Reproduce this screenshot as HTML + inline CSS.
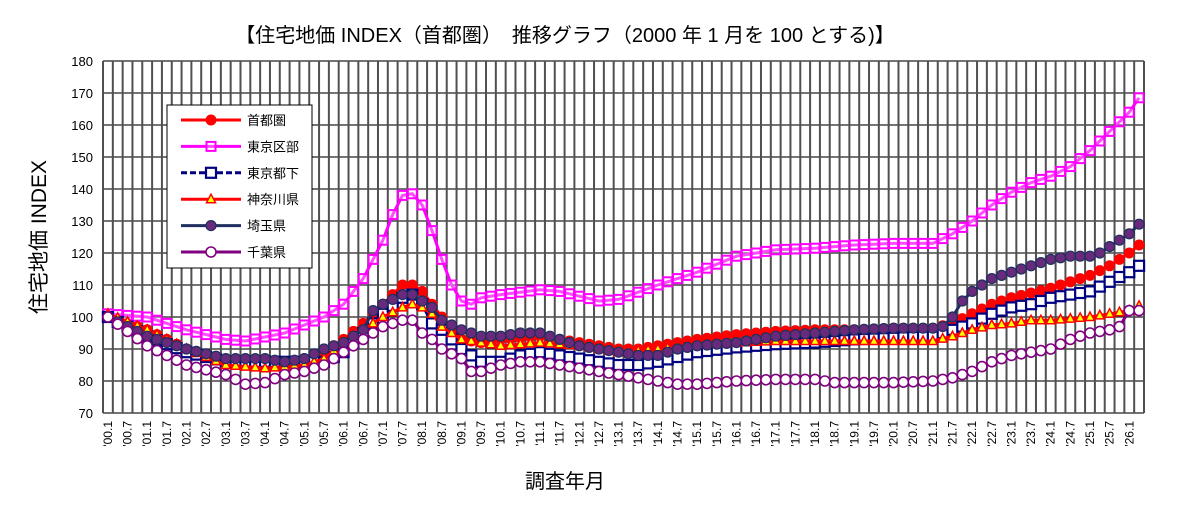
<!DOCTYPE html>
<html><head><meta charset="utf-8">
<style>
body{margin:0;background:#fff;}
svg{display:block;font-family:"Liberation Sans","Noto Sans CJK JP",sans-serif;}
</style></head>
<body>
<svg id="c" width="1182" height="511" xmlns="http://www.w3.org/2000/svg">
<text x="565" y="42" font-size="20" text-anchor="middle">【住宅地価 INDEX（首都圏）　推移グラフ（2000 年 1 月を 100 とする)】</text>
<text transform="translate(46,237) rotate(-90)" font-size="21" text-anchor="middle">住宅地価 INDEX</text>
<text x="565" y="488" font-size="20" text-anchor="middle">調査年月</text>
<g id="g"></g>
</svg>
<script>
const L=103,R=1144,T=61,B=413,N=106,cw=(R-L)/N;
const X=i=>L+(i+0.5)*cw, Y=v=>T+(180-v)*(B-T)/110;
const g=document.getElementById('g');let h='';
for(let k=0;k<=11;k++){const y=T+k*(B-T)/11;h+=`<line x1="${L}" x2="${R}" y1="${y}" y2="${y}" stroke="#222" stroke-width="1.2"/>`;
h+=`<text x="${L-10}" y="${y+5}" font-size="13">${''}</text><text x="${L-10}" y="${y+5}" font-size="13" text-anchor="end">${180-k*10}</text>`;}
for(let i=0;i<=N;i++){const x=L+i*cw;h+=`<line x1="${x}" x2="${x}" y1="${T}" y2="${B}" stroke="#505050" stroke-width="2"/>`;}
for(let i=0;i<N;i+=2){const yr=String(Math.floor(i/4)).padStart(2,'0');const m=i%4==0?'1':'7';
h+=`<text transform="translate(${X(i)+4},${B+8}) rotate(-90)" font-size="12" text-anchor="end">'${yr}.${m}</text>`;}
function interp(a){const ks=Object.keys(a).map(Number).sort((p,q)=>p-q);const out=[];
for(let i=0;i<N;i++){let j=0;while(j<ks.length-1&&ks[j+1]<i)j++;const k0=ks[j],k1=ks[Math.min(j+1,ks.length-1)];
if(i<=k0||k0==k1)out.push(a[k0]);else out.push(a[k0]+(a[k1]-a[k0])*(i-k0)/(k1-k0));}return out;}
const S={
mag:{0:101,4:100,8:96,12:93,14:92.5,18:95,22:100,24:104,26:112,28:124,29:132,30:138,31:138.5,32:135,33:127,34:118,35:110,36:105,37:104,38:106,40:107,44:108.5,46:108,50:105,52:105.5,56:110,60:114,64:119,68:121,72:121.5,76:122.5,80:123,84:123,86:126,88:130,90:135,92:139,94:142,96:144,98:147,100:152,102:158,104:164,105:168.5},
red:{0:100,4:96,8:90,12:86,16:85,18:85.5,20:87,22:89,24:93,26:98,28:104,30:110,31:110,32:108,33:104,34:100,35:97,36:93,38:92,40:93,44:94,48:92,52:90,54:90,56:91,60:93,64:94.5,68:95.5,72:96,76:96,80:96.5,84:96.5,86:98,88:101,90:104,92:106,94:107.5,96:109,98:111,100:113,102:116,104:120,105:122.5},
nav:{0:100,4:94,8:89,12:86,16:86,20:86,22:86,24:89,26:95,28:101,30:106,31:107,32:104,33:98,34:96,36:90,38:86,40:86,42:88,44:89,48:87,52:85,54:85,56:86,60:89,64:90.5,68:91.5,72:92,76:93,80:93.5,84:94,86:96,88:98,90:101,92:103,94:104,96:106,98:107,100:108,102:111,104:114,105:116},
kan:{0:101,4:96,8:90,12:85,16:84,20:85,22:87,24:92,26:96,28:100,30:103,31:104,32:103,33:101,34:97,36:93,38:92,40:91,44:92,48:91,52:89,56:90,60:91.5,64:92,68:92.5,84:92.5,86:94,88:96,90:97.5,92:98,94:99,96:99,100:100,102:101,104:102,105:103.5},
sai:{0:100,4:94,8:90,12:87,16:87,18:86,20:87,22:90,24:92,26:96,27:102,28:104,30:107,31:107,32:105,33:103,34:99,36:96,38:94,40:94,42:95,44:95,48:91,52:89,54:88,56:88,58:90,60:91,64:92,68:94,72:95,76:96,80:96.5,84:96.5,85:97,86:100,87:105,88:108,90:112,92:114,94:116,96:118,98:119,100:119,101:120,102:122,104:126,105:129},
chi:{0:100,4:91,8:85,12:82,14:79,16:79.5,18:82,20:83,22:85,24:89,26:93,28:97,30:99,31:99,32:95,33:93,34:90,36:87,37:83,38:83,40:85,42:86,44:86,48:84,52:82,56:80,58:79,60:79,64:80,68:80.5,72:80.5,74:79.5,80:79.5,84:80,86:81,88:83,90:86,92:88,94:89,96:90,98:93,100:95,102:96,103:97,104:102,105:102}};
function mk(t,x,y){
if(t=='red')return `<circle cx="${x}" cy="${y}" r="5" fill="#f00" stroke="#f00"/>`;
if(t=='mag')return `<rect x="${x-4.5}" y="${y-4.5}" width="9" height="9" fill="#fff" fill-opacity=".3" stroke="#f0f" stroke-width="2"/>`;
if(t=='nav')return `<rect x="${x-5}" y="${y-5}" width="10" height="10" fill="#fff" stroke="#000080" stroke-width="2.2"/>`;
if(t=='kan')return `<polygon points="${x},${y-5} ${x+4.5},${y+3.5} ${x-4.5},${y+3.5}" fill="#ff0" stroke="#f00" stroke-width="1.5"/>`;
if(t=='sai')return `<circle cx="${x}" cy="${y}" r="5" fill="#6a2a7c" stroke="#1f2f5f" stroke-width="1.2"/>`;
if(t=='chi')return `<circle cx="${x}" cy="${y}" r="5" fill="#fff" stroke="#800080" stroke-width="1.6"/>`;}
const col={red:'#f00',mag:'#f0f',nav:'#000080',kan:'#f00',sai:'#1f2f5f',chi:'#800080'};
for(const t of ['red','mag','nav','kan','sai','chi']){const v=interp(S[t]);
h+=`<polyline fill="none" stroke="${col[t]}" stroke-width="3" points="${v.map((d,i)=>X(i)+','+Y(d)).join(' ')}"/>`;
v.forEach((d,i)=>h+=mk(t,X(i),Y(d)));}
h+=`<rect x="167" y="105" width="145" height="163" fill="#fff" stroke="#000" stroke-width="1"/>`;
const lg=[['red','首都圏'],['mag','東京区部'],['nav','東京都下'],['kan','神奈川県'],['sai','埼玉県'],['chi','千葉県']];
lg.forEach(([t,s],k)=>{const y=120+k*26.4;
h+=`<line x1="181" x2="241" y1="${y}" y2="${y}" stroke="${col[t]}" stroke-width="3" ${t=='nav'?'stroke-dasharray="6,3" stroke="#1f3864"':''}/>`+mk(t,211,y)+
`<text x="247" y="${y+5}" font-size="13">${s}</text>`;});
g.innerHTML=h;
</script>
</body></html>
